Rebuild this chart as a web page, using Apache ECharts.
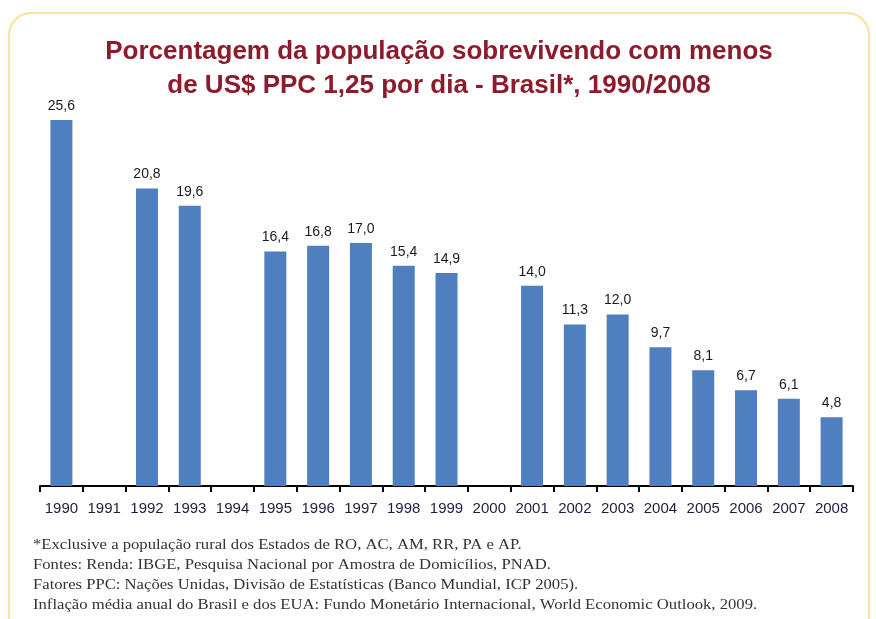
<!DOCTYPE html>
<html>
<head>
<meta charset="utf-8">
<script src="https://cdn.jsdelivr.net/npm/echarts@6/dist/echarts.min.js"></script>
<style>
  html, body { margin: 0; padding: 0; background: #fff; }
  #chart { width: 876px; height: 619px; }
</style>
</head>
<body>
<div id="chart"></div>
<script>
// anos (1991, 1994 e 2000 sem dado)
var anos = ['1990', '1991', '1992', '1993', '1994', '1995', '1996', '1997', '1998', '1999',
  '2000', '2001', '2002', '2003', '2004', '2005', '2006', '2007', '2008'];
var valores = [25.6, null, 20.8, 19.6, null, 16.4, 16.8, 17.0, 15.4, 14.9,
  null, 14.0, 11.3, 12.0, 9.7, 8.1, 6.7, 6.1, 4.8];

var titulo = 'Porcentagem da população sobrevivendo com menos\nde US$ PPC 1,25 por dia - Brasil*, 1990/2008';
var notas = [
  '*Exclusive a população rural dos Estados de RO, AC, AM, RR, PA e AP.',
  'Fontes: Renda: IBGE, Pesquisa Nacional por Amostra de Domicílios, PNAD.',
  'Fatores PPC: Nações Unidas, Divisão de Estatísticas (Banco Mundial, ICP 2005).',
  'Inflação média anual do Brasil e dos EUA: Fundo Monetário Internacional, World Economic Outlook, 2009.'
];

var chart = echarts.init(document.getElementById('chart'));

var option = {
  backgroundColor: '#fff',
  animation: false,
  title: {
    text: titulo,
    left: 434,
    textAlign: 'center',
    top: 30,
    textStyle: {
      fontFamily: 'Liberation Sans, Arial',
      fontSize: 26,
      fontWeight: 'bold',
      color: '#8c1c2c',
      lineHeight: 34
    }
  },
  graphic: [
    {
      type: 'rect',
      shape: { x: 9, y: 13, width: 860, height: 640, r: 22 },
      style: { fill: 'none', stroke: '#fbe29a', lineWidth: 2 },
      silent: true
    },
    {
      type: 'text',
      x: 33,
      y: 535,
      scaleX: 1.11,
      style: {
        text: notas.join('\n'),
        font: '15px "Liberation Serif", "DejaVu Serif", serif',
        lineHeight: 20,
        fill: '#333'
      }
    }
  ],
  grid: { left: 40, right: 23, top: 57, bottom: 133 },
  xAxis: {
    type: 'category',
    data: anos,
    axisLine: { lineStyle: { color: '#000', width: 2 } },
    axisTick: { show: true, alignWithLabel: false, length: 6, lineStyle: { color: '#000', width: 2 } },
    axisLabel: {
      interval: 0,
      margin: 15,
      fontFamily: 'Liberation Sans, Arial',
      fontSize: 15,
      color: '#1e1e40'
    }
  },
  yAxis: {
    type: 'value',
    min: 0,
    max: 30,
    show: false,
    splitLine: { show: false }
  },
  series: [{
    type: 'bar',
    data: valores,
    barWidth: 22,
    itemStyle: { color: '#4f7fbf' },
    label: {
      show: true,
      position: 'top',
      distance: 7,
      fontFamily: 'Liberation Sans, Arial',
      fontSize: 14,
      color: '#1a1a1a',
      formatter: function (p) {
        return p.value == null ? '' : p.value.toFixed(1).replace('.', ',');
      }
    }
  }]
};

chart.setOption(option);
</script>
</body>
</html>
